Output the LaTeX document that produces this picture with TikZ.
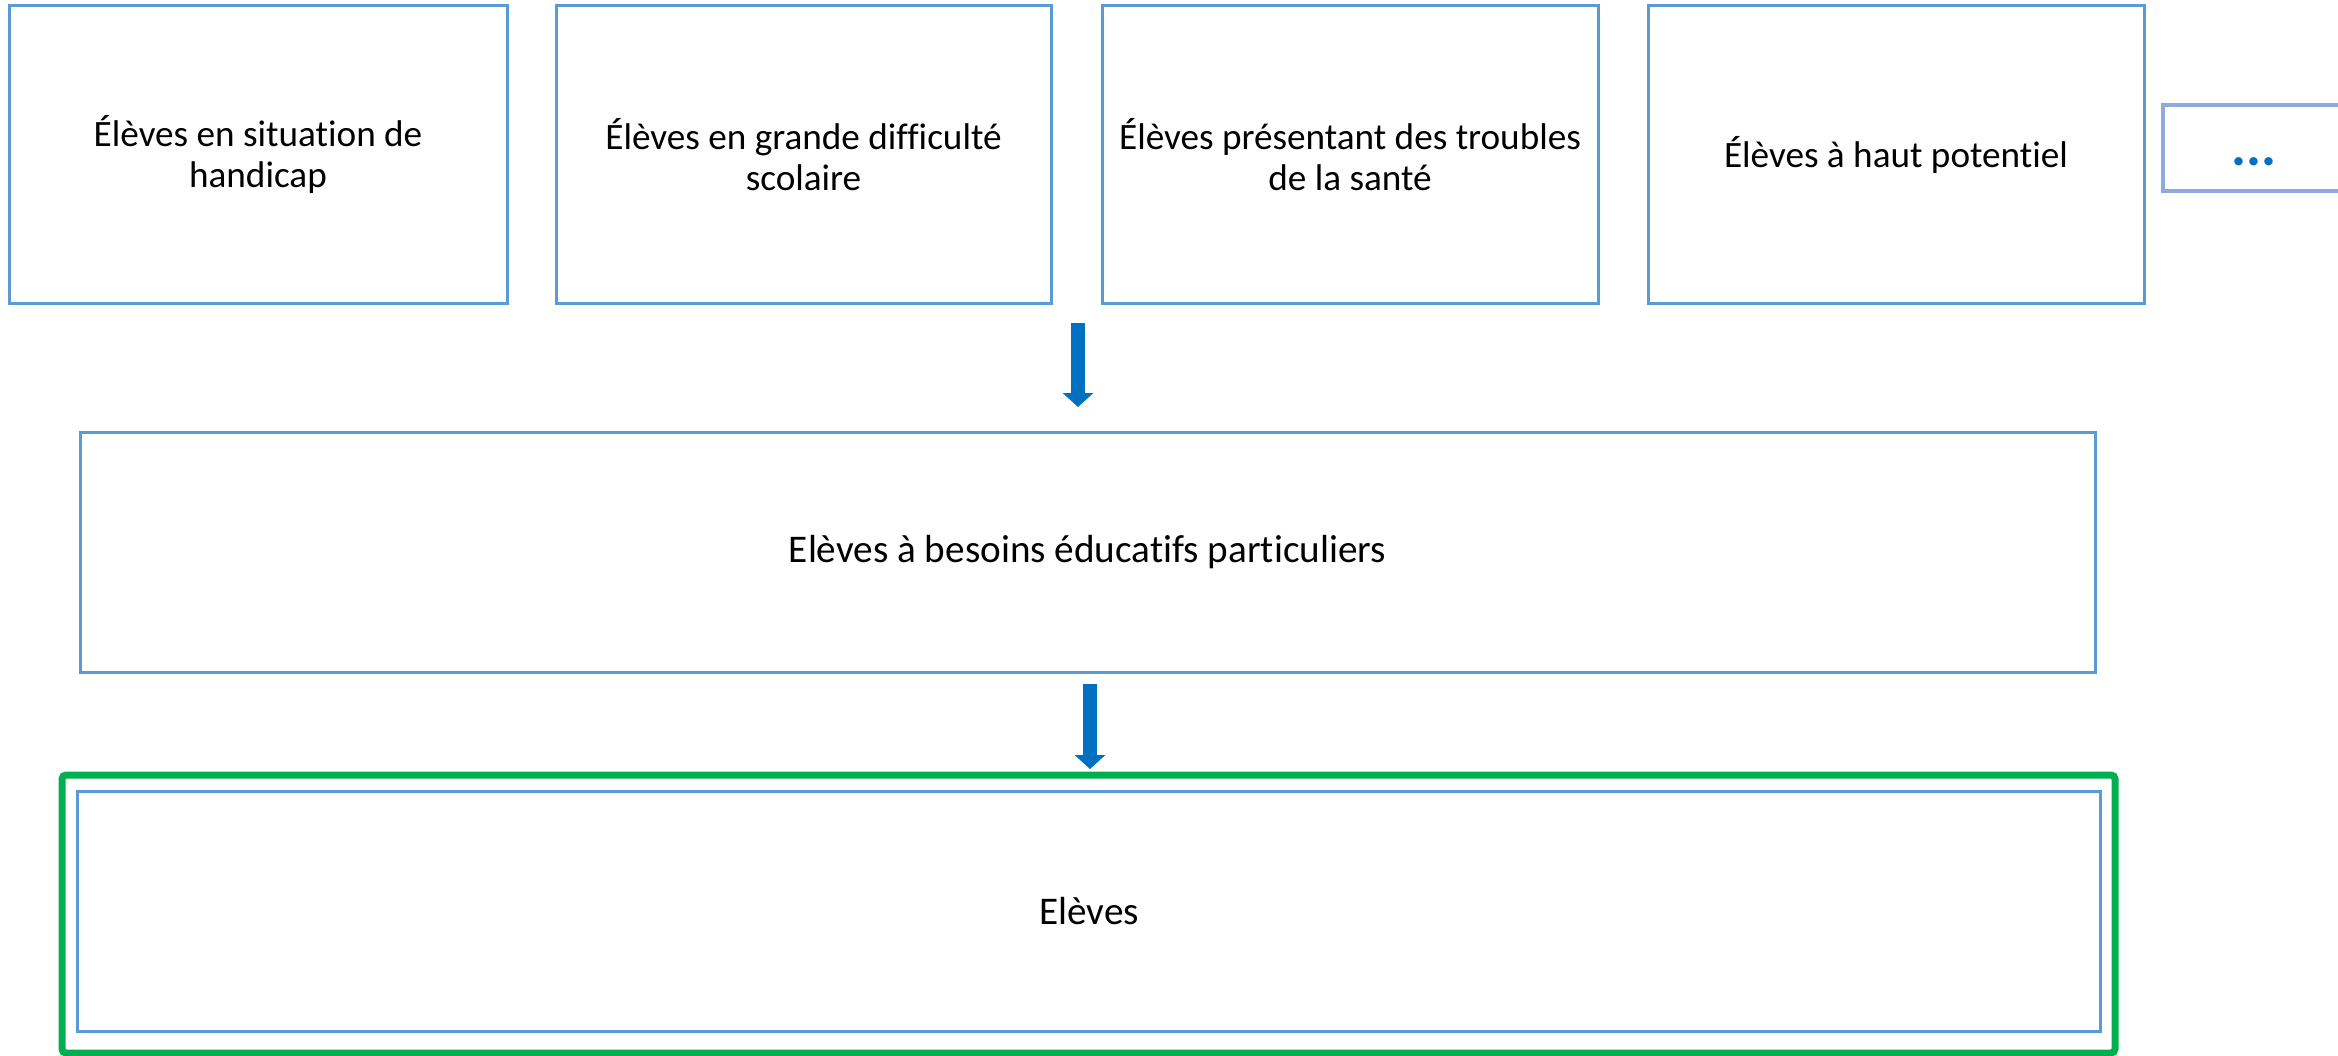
\documentclass[tikz,border=0pt]{standalone}
\usepackage{fontspec}
\setmainfont{Carlito}[Ligatures=NoCommon]
\usetikzlibrary{arrows.meta}
\definecolor{boxblue}{RGB}{91,155,213}
\definecolor{dotblue}{RGB}{143,170,220}
\definecolor{arrblue}{RGB}{0,112,192}
\definecolor{frgreen}{RGB}{0,176,80}
\tikzset{
  catbox/.style={draw=boxblue, line width=1.5pt, inner sep=0pt, align=center,
    font=\fontsize{18.6}{20.5}\selectfont},
  widebox/.style={catbox, font=\fontsize{19.6}{22}\selectfont},
  bigarrow/.style={draw=arrblue, line width=7pt,
    -{Triangle[width=15pt,length=7pt]}},
}
\begin{document}
\begin{tikzpicture}[x=0.5pt,y=-0.5pt]
\useasboundingbox (0,0) rectangle (2338,1055);
\clip (0,0) rectangle (2338,1055);
% top row
\node[catbox, minimum width=249pt, minimum height=149pt] (b1) at (258,154.5)
  {Élèves en situation de\\handicap};
\node[catbox, minimum width=247.5pt, minimum height=149pt] (b2) at (803.5,154.5)
  {Élèves en grande difficulté\\scolaire};
\node[catbox, minimum width=248pt, minimum height=149pt] (b3) at (1350,154.5)
  {Élèves présentant des troubles\\de la santé};
\node[catbox, minimum width=248pt, minimum height=149pt] (b4) at (1896,154.5)
  {Élèves à haut potentiel};
\node[draw=dotblue, line width=2pt, inner sep=0pt, minimum width=91pt, minimum height=43pt,
  text=arrblue, text height=17.5pt, text depth=0pt,
  font=\fontsize{28}{30}\selectfont\bfseries] (more) at (2254,148) {...};
% middle
\node[widebox, minimum width=1007.5pt, minimum height=120pt] (mid) at (1087.5,552)
  {Elèves à besoins éducatifs particuliers};
% bottom
\node[draw=frgreen, line width=3.5pt, rounded corners=2pt, minimum width=1026.5pt,
  minimum height=139pt, inner sep=0pt] (frame) at (1088.5,914) {};
\node[widebox, minimum width=1011.75pt, minimum height=120pt] (all) at (1089,911)
  {Elèves};
% arrows
\coordinate (a1s) at (1078,323);
\coordinate (a1e) at (1078,407);
\coordinate (a2s) at (1090,684);
\coordinate (a2e) at (1090,769);
\draw[bigarrow] (a1s) -- (a1e);
\draw[bigarrow] (a2s) -- (a2e);
\end{tikzpicture}
\end{document}
